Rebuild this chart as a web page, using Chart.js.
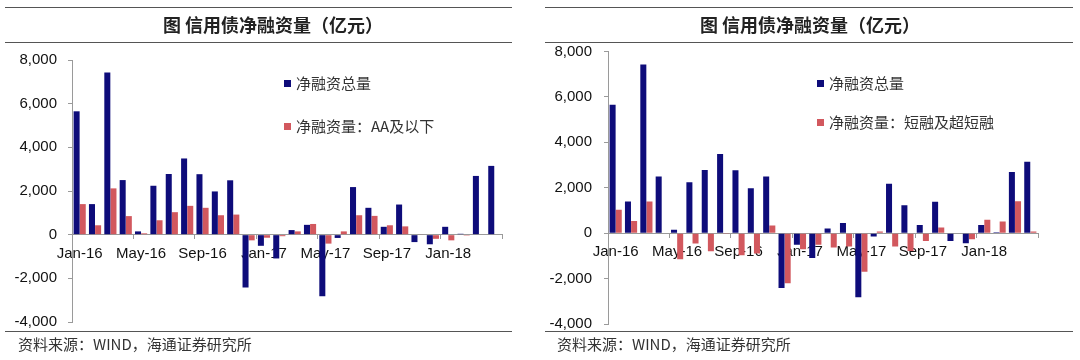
<!DOCTYPE html>
<html>
<head>
<meta charset="utf-8">
<script src="https://cdn.jsdelivr.net/npm/chart.js@4"></script>
<style>
  body { margin: 0; width: 1080px; height: 360px; background: #fff; overflow: hidden; position: relative; font-family: "Noto Sans CJK SC", sans-serif; }
  canvas { position: absolute; top: 0; }
  .rule { position: absolute; height: 0; border-top: 1.5px solid #555; }
  .title { position: absolute; top: 11px; font-size: 18px; font-weight: bold; color: #222; transform: translateX(-50%); white-space: nowrap; }
  .source { position: absolute; top: 333px; font-size: 15px; color: #333; white-space: nowrap; }
  .legend { position: absolute; font-size: 15px; color: #333; white-space: nowrap; line-height: 18px; }
  .legend i { display: inline-block; width: 7px; height: 7px; margin-right: 5px; vertical-align: 2px; }
</style>
</head>
<body>
<canvas id="left" width="540" height="342" style="left:0"></canvas>
<canvas id="right" width="540" height="345" style="left:540px"></canvas>

<div class="rule" style="left:5px;width:507px;top:7px"></div>
<div class="rule" style="left:5px;width:507px;top:42px"></div>
<div class="rule" style="left:5px;width:507px;top:331px"></div>
<div class="rule" style="left:545px;width:528px;top:7px"></div>
<div class="rule" style="left:545px;width:528px;top:42px"></div>
<div class="rule" style="left:545px;width:528px;top:331px"></div>

<div class="title" style="left:273px" id="title-left"></div>
<div class="title" style="left:810px" id="title-right"></div>
<div class="source" style="left:18px" id="source-left"></div>
<div class="source" style="left:557px" id="source-right"></div>

<script>
const months = ['Jan-16','Feb-16','Mar-16','Apr-16','May-16','Jun-16','Jul-16','Aug-16','Sep-16','Oct-16','Nov-16','Dec-16',
  'Jan-17','Feb-17','Mar-17','Apr-17','May-17','Jun-17','Jul-17','Aug-17','Sep-17','Oct-17','Nov-17','Dec-17',
  'Jan-18','Feb-18','Mar-18','Apr-18'];

// 净融资总量 (both panels)
const totalNet = [5650, 1400, 7430, 2500, 150, 2240, 2780, 3490, 2770, 1980, 2490, -2420,
  -510, -1090, 210, 450, -2820, -150, 2180, 1230, 360, 1380, -340, -440,
  360, 40, 2690, 3150];
// 净融资量：AA及以下
const aaAndBelow = [1400, 430, 2120, 850, 60, 660, 1030, 1320, 1230, 890, 920, -260,
  -140, -70, 150, 490, -410, 150, 890, 860, 430, 380, 20, -190,
  -260, -40, 0, 0];
// 净融资量：短融及超短融
const shortTerm = [1030, 540, 1400, 20, -1150, -455, -795, -40, -970, -900, 340, -2200,
  -705, -515, -630, -590, -1700, 70, -590, -780, -340, 250, 0, -265,
  590, 515, 1410, 70];

const yTicks = { min: -4000, max: 8000, step: 2000 };
const titleText = '图 信用债净融资量（亿元）';
const sourceText = '资料来源：WIND，海通证券研究所';
const totalLabel = '净融资总量';
const aaLabel = '净融资量：AA及以下';
const shortLabel = '净融资量：短融及超短融';

const NAVY = '#0e0c7a';
const RED = '#d2585e';
const AXIS = '#9a9a9a';

Chart.defaults.font.family = '"Liberation Sans", Arial, sans-serif';
Chart.defaults.font.size = 15;
Chart.defaults.color = '#111';

document.getElementById('title-left').textContent = titleText;
document.getElementById('title-right').textContent = titleText;
document.getElementById('source-left').textContent = sourceText;
document.getElementById('source-right').textContent = sourceText;

function addLegend(items, left, tops) {
  items.forEach((it, i) => {
    const d = document.createElement('div');
    d.className = 'legend';
    d.style.left = left + 'px';
    d.style.top = (tops[i] - 9) + 'px';
    const sw = document.createElement('i');
    sw.style.background = it.color;
    d.appendChild(sw);
    d.appendChild(document.createTextNode(it.label));
    document.body.appendChild(d);
  });
}

function makeChart(id, red, redLabel, pad, axisWidth, labelPad) {
  new Chart(document.getElementById(id), {
    type: 'bar',
    data: {
      labels: months,
      datasets: [
        { label: totalLabel, data: totalNet, backgroundColor: NAVY },
        { label: redLabel, data: red, backgroundColor: RED },
      ],
    },
    options: {
      responsive: false,
      animation: false,
      layout: { padding: pad },
      datasets: { bar: { categoryPercentage: 0.8, barPercentage: 0.98 } },
      plugins: { legend: { display: false }, tooltip: { enabled: false } },
      scales: {
        x: {
          position: { y: 0 },
          grid: {
            drawOnChartArea: false,
            tickLength: 4,
            offset: true,
            color: c => (c.index === undefined || c.index % 4 === 0) ? AXIS : 'rgba(0,0,0,0)',
          },
          border: { color: AXIS },
          ticks: {
            autoSkip: false,
            maxRotation: 0,
            padding: 6,
            callback: function (v, i) { return i % 4 === 0 ? this.getLabelForValue(v) : ''; },
          },
        },
        y: {
          min: yTicks.min,
          max: yTicks.max,
          ticks: { stepSize: yTicks.step, padding: labelPad },
          grid: { drawOnChartArea: false, tickLength: 4, color: AXIS },
          border: { color: AXIS },
          afterFit: s => { s.width = axisWidth; },
        },
      },
    },
  });
}

makeChart('left', aaAndBelow, aaLabel, { top: 60, right: 38, bottom: 18, left: 0 }, 72, 11);
makeChart('right', shortTerm, shortLabel, { top: 51.5, right: 42, bottom: 12, left: 0 }, 68, 12);

addLegend([{ label: totalLabel, color: NAVY }, { label: aaLabel, color: RED }], 284, [83, 126]);
addLegend([{ label: totalLabel, color: NAVY }, { label: shortLabel, color: RED }], 817, [83, 122]);
</script>
</body>
</html>
